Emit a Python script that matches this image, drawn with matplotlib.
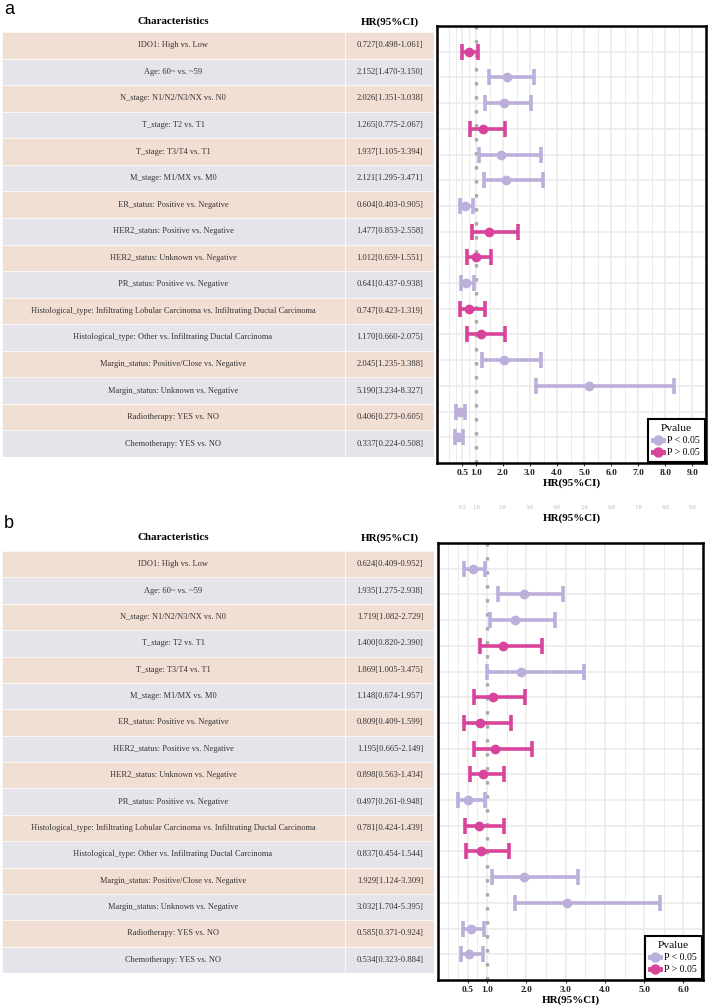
import matplotlib
matplotlib.use("Agg")
import matplotlib.pyplot as plt
import matplotlib.transforms as mtransforms
from matplotlib.lines import Line2D
from matplotlib.patches import Rectangle

# ---------------- data ----------------
characteristics = [
    "IDO1: High vs. Low",
    "Age: 60~ vs. ~59",
    "N_stage: N1/N2/N3/NX vs. N0",
    "T_stage: T2 vs. T1",
    "T_stage: T3/T4 vs. T1",
    "M_stage: M1/MX vs. M0",
    "ER_status: Positive vs. Negative",
    "HER2_status: Positive vs. Negative",
    "HER2_status: Unknown vs. Negative",
    "PR_status: Positive vs. Negative",
    "Histological_type: Infiltrating Lobular Carcinoma vs. Infiltrating Ductal Carcinoma",
    "Histological_type: Other vs. Infiltrating Ductal Carcinoma",
    "Margin_status: Positive/Close vs. Negative",
    "Margin_status: Unknown vs. Negative",
    "Radiotherapy: YES vs. NO",
    "Chemotherapy: YES vs. NO",
]

hr_a = [0.727, 2.152, 2.026, 1.265, 1.937, 2.121, 0.604, 1.477, 1.012, 0.641, 0.747, 1.170, 2.045, 5.190, 0.406, 0.337]
lo_a = [0.498, 1.470, 1.351, 0.775, 1.105, 1.295, 0.403, 0.853, 0.659, 0.437, 0.423, 0.660, 1.235, 3.234, 0.273, 0.224]
hi_a = [1.061, 3.150, 3.038, 2.067, 3.394, 3.471, 0.905, 2.558, 1.551, 0.938, 1.319, 2.075, 3.388, 8.327, 0.605, 0.508]
sig_a = [False, True, True, False, True, True, True, False, False, True, False, False, True, True, True, True]

hr_b = [0.624, 1.935, 1.719, 1.400, 1.869, 1.148, 0.809, 1.195, 0.898, 0.497, 0.781, 0.837, 1.929, 3.032, 0.585, 0.534]
lo_b = [0.409, 1.275, 1.082, 0.820, 1.005, 0.674, 0.409, 0.665, 0.563, 0.261, 0.424, 0.454, 1.124, 1.704, 0.371, 0.323]
hi_b = [0.952, 2.938, 2.729, 2.390, 3.475, 1.957, 1.599, 2.149, 1.434, 0.948, 1.439, 1.544, 3.309, 5.395, 0.924, 0.884]
sig_b = [True, True, True, False, True, False, False, False, False, True, False, False, True, True, True, True]

ticks_a = [0.5, 1.0, 2.0, 3.0, 4.0, 5.0, 6.0, 7.0, 8.0, 9.0]
ticks_b = [0.5, 1.0, 2.0, 3.0, 4.0, 5.0, 6.0]
minor_a = [0.0, 0.25, 0.75, 1.5, 2.5, 3.5, 4.5, 5.5, 6.5, 7.5, 8.5, 9.5]
minor_b = [0.0, 0.25, 0.75, 1.5, 2.5, 3.5, 4.5, 5.5, 6.5]

legend_labels = ["P < 0.05", "P > 0.05"]

# ---------------- style ----------------
W, H = 708, 1006
SERIF = ["Liberation Serif", "DejaVu Serif"]
SANS = ["Liberation Sans", "DejaVu Sans"]
C_SIG = "#BCAFDB"
C_NS = "#D8449B"
ROW_PEACH = "#F2DFD4"
ROW_GRAY = "#E5E4EA"
GRID = "#EBEBEB"

fig = plt.figure(figsize=(W / 100, H / 100), dpi=100)


def rect(x0, y0, x1, y1):
    return [x0 / W, 1 - y1 / H, (x1 - x0) / W, (y1 - y0) / H]


def draw_table(box, hr, lo, hi, header_y):
    x0, y0, x1, y1 = box
    ax = fig.add_axes(rect(x0, y0, x1, y1))
    n = len(characteristics)
    ax.set_xlim(x0, x1)
    ax.set_ylim(n, 0)
    ax.axis("off")
    split = 345
    for i, name in enumerate(characteristics):
        col = ROW_PEACH if i % 2 == 0 else ROW_GRAY
        ax.add_patch(Rectangle((x0, i), split - x0, 1, facecolor=col, edgecolor="white", lw=0.4))
        ax.add_patch(Rectangle((split, i), x1 - split, 1, facecolor=col, edgecolor="white", lw=0.4))
        ax.text(173, i + 0.5, name, ha="center", va="center", fontsize=6.0,
                family=SERIF, color="#333333")
        ax.text(390, i + 0.5, f"{hr[i]:.3f}[{lo[i]:.3f}-{hi[i]:.3f}]", ha="center",
                va="center", fontsize=6.2, family=SERIF, color="#333333")
    fig.text(173 / W, 1 - header_y / H, "Characteristics", ha="center", va="center",
             fontsize=7.9, fontweight="bold", family=SERIF)
    fig.text(390 / W, 1 - header_y / H, "HR(95%CI)", ha="center", va="center",
             fontsize=7.9, fontweight="bold", family=SERIF)


def draw_forest(box, hr, lo, hi, sig, ticks, minor, xlim):
    ax = fig.add_axes(rect(*box))
    n = len(hr)
    ax.set_xlim(*xlim)
    ax.set_ylim(n, -1)
    ax.set_xticks(ticks)
    ax.set_xticklabels([f"{t:.1f}" for t in ticks], fontsize=6.8, fontweight="bold",
                       family=SERIF, color="#222222")
    ax.set_xticks(minor, minor=True)
    ax.set_yticks(range(n))
    ax.set_yticklabels([])
    ax.tick_params(axis="y", length=0)
    ax.tick_params(axis="x", which="major", length=2.5, width=0.8, pad=2, color="#333333")
    ax.tick_params(axis="x", which="minor", length=0)
    ax.grid(True, which="major", axis="x", color=GRID, lw=1.2, zorder=0)
    ax.grid(True, which="minor", axis="x", color=GRID, lw=0.7, zorder=0)
    ax.grid(True, which="major", axis="y", color=GRID, lw=1.2, zorder=0)
    ax.set_axisbelow(True)
    for s in ax.spines.values():
        s.set_linewidth(1.8)
        s.set_color("black")
    ax.axvline(1.0, color="#A8A8A8", lw=2.4, ls=(0, (1, 3.2)), zorder=1)
    for i in range(n):
        c = C_SIG if sig[i] else C_NS
        ax.errorbar(hr[i], i, xerr=[[hr[i] - lo[i]], [hi[i] - hr[i]]], fmt="o", color=c,
                    ms=6, elinewidth=2.6, capsize=6, capthick=2.6, zorder=3)
    ax.set_xlabel("HR(95%CI)", fontsize=7.9, fontweight="bold", family=SERIF, labelpad=1)
    handles = [Line2D([], [], color=C_SIG, marker="o", ms=6.5, lw=3.5),
               Line2D([], [], color=C_NS, marker="o", ms=6.5, lw=3.5)]
    leg = ax.legend(handles, legend_labels, title="Pvalue", loc="lower right",
                    bbox_to_anchor=(1, 0), borderaxespad=0.12, handlelength=1.0,
                    handletextpad=0.45, labelspacing=0.3, borderpad=0.5,
                    prop={"family": SERIF, "size": 7.0}, fancybox=False, framealpha=1)
    leg.get_title().set_fontfamily(SERIF)
    leg.get_title().set_fontsize(8.2)
    leg.get_frame().set_edgecolor("black")
    leg.get_frame().set_linewidth(1.5)
    return ax


# Panel a
fig.text(4 / W, 1 - 10 / H, "a", ha="left", va="center", fontsize=13, family=SANS)
draw_table((2, 32, 434, 457), hr_a, lo_a, hi_a, 22)
ax_a = draw_forest((437, 26, 706, 463), hr_a, lo_a, hi_a, sig_a, ticks_a, minor_a, (-0.44, 9.42))

# faint ghost artefact below panel a
tr = mtransforms.blended_transform_factory(ax_a.transData, fig.transFigure)
for t in ticks_a:
    ax_a.text(t, 1 - 507 / H, f"{t:.1f}", transform=tr, ha="center", va="center",
              fontsize=4.5, fontweight="bold", family=SERIF, color="#D0D0D0", clip_on=False)
fig.text(572 / W, 1 - 518 / H, "HR(95%CI)", ha="center", va="center", fontsize=7.9,
         fontweight="bold", family=SERIF)

# Panel b
fig.text(4 / W, 1 - 523 / H, "b", ha="left", va="center", fontsize=13, family=SANS)
draw_table((2, 551, 434, 973), hr_b, lo_b, hi_b, 538)
draw_forest((438, 543, 703, 980), hr_b, lo_b, hi_b, sig_b, ticks_b, minor_b, (-0.256, 6.27))

fig.savefig("out.png", dpi=100)
